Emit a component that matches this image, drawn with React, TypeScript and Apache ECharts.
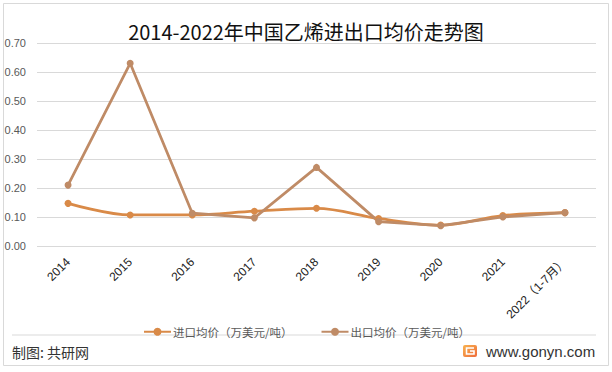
import React, { useEffect, useRef } from "react";
import * as echarts from "echarts";

const categories = ["2014", "2015", "2016", "2017", "2018", "2019", "2020", "2021", "2022（1-7月）"];
const importPrice = [0.147, 0.107, 0.107, 0.12, 0.13, 0.095, 0.072, 0.105, 0.115];
const exportPrice = [0.21, 0.63, 0.113, 0.097, 0.271, 0.084, 0.07, 0.1, 0.115];
const yTicks = { min: 0, max: 0.7, interval: 0.1 };
const seriesNames = ["进口均价（万美元/吨）", "出口均价（万美元/吨）"];

const watermarkSpots = [
  [175, 138], [405, 108], [440, 218], [205, 268],
];

export default function App() {
  const ref = useRef<HTMLDivElement>(null);
  useEffect(() => {
    document.body.style.margin = "0";
    if (!ref.current) return;
    const chart = echarts.init(ref.current, null, { renderer: "svg" });
    const wm: any[] = [];
    watermarkSpots.forEach(([x, y]) => {
      wm.push({
        type: "group",
        x,
        y,
        rotation: (12 * Math.PI) / 180,
        silent: true,
        z: -10,
        children: [
          {
            type: "text",
            x: 0,
            y: 0,
            style: {
              text: "G共研网",
              fontSize: 34,
              fontWeight: "bold",
              fill: "rgba(0,0,0,0.025)",
              fontFamily: "Noto Sans CJK SC",
              align: "center",
              verticalAlign: "middle",
            },
          },
          {
            type: "text",
            x: 0,
            y: 30,
            style: {
              text: "w w w . g o n y n . c o m",
              fontSize: 14,
              fill: "rgba(0,0,0,0.025)",
              fontFamily: "Liberation Sans",
              align: "center",
              verticalAlign: "middle",
            },
          },
        ],
      });
    });
    chart.setOption({
      animation: false,
      backgroundColor: "#ffffff",
      title: {
        text: "2014-2022年中国乙烯进出口均价走势图",
        left: "center",
        top: 16,
        textStyle: {
          fontSize: 20,
          fontWeight: "normal",
          color: "#111",
          fontFamily: "Noto Sans CJK SC",
        },
      },
      legend: {
        data: seriesNames,
        left: 138,
        top: 321,
        itemWidth: 27,
        itemHeight: 10,
        itemGap: 28,
        textStyle: { fontSize: 11.5, color: "#595959", fontFamily: "Noto Sans CJK SC", padding: [0, 0, 0, -3] },
      },
      grid: { left: 37, right: 16, top: 43, bottom: 126 },
      xAxis: {
        type: "category",
        data: categories,
        boundaryGap: true,
        axisLine: { show: false },
        axisTick: { show: false },
        axisLabel: {
          interval: 0,
          rotate: 45,
          margin: 14,
          fontSize: 12,
          color: "#222",
          fontFamily: "Liberation Sans, Noto Sans CJK SC",
        },
      },
      yAxis: {
        type: "value",
        min: yTicks.min,
        max: yTicks.max,
        interval: yTicks.interval,
        axisLine: { show: false },
        axisTick: { show: false },
        splitLine: { lineStyle: { color: "#D9D9D9", width: 1 } },
        axisLabel: {
          margin: 11,
          fontSize: 11,
          color: "#595959",
          fontFamily: "Liberation Sans",
          formatter: (v: number) => v.toFixed(2),
        },
      },
      series: [
        {
          name: seriesNames[0],
          type: "line",
          data: importPrice,
          smooth: 0.35,
          symbol: "circle",
          symbolSize: 7,
          lineStyle: { width: 2.75, color: "#D98A48" },
          itemStyle: { color: "#D98A48" },
        },
        {
          name: seriesNames[1],
          type: "line",
          data: exportPrice,
          symbol: "circle",
          symbolSize: 7,
          lineStyle: { width: 2.75, color: "#BF8B66" },
          itemStyle: { color: "#BF8B66" },
        },
      ],
      graphic: [
        ...wm,
        {
          type: "rect",
          shape: { x: 3.5, y: 3.5, width: 605, height: 362 },
          style: { fill: "none", stroke: "#D9D9D9", lineWidth: 1 },
          silent: true,
        },
        {
          type: "line",
          shape: { x1: 12, y1: 335, x2: 596, y2: 335 },
          style: { stroke: "#D9D9D9", lineWidth: 1 },
          silent: true,
        },
        {
          type: "text",
          x: 12,
          y: 352,
          style: {
            text: "制图: 共研网",
            fontSize: 14,
            fill: "#333",
            fontFamily: "Noto Sans CJK SC",
            verticalAlign: "middle",
          },
        },
        {
          type: "rect",
          shape: { x: 463, y: 345, width: 14, height: 12, r: 2 },
          style: {
            fill: new echarts.graphic.LinearGradient(0, 0, 1, 1, [
              { offset: 0, color: "#F8B24E" },
              { offset: 1, color: "#EE6B3B" },
            ]),
          },
        },
        {
          type: "polyline",
          shape: { points: [[474, 348], [466.5, 348], [466.5, 354], [474, 354], [474, 351], [470, 351]] },
          style: { stroke: "#fff", lineWidth: 1.6, fill: "none" },
        },
        {
          type: "text",
          x: 486,
          y: 351,
          style: {
            text: "www.gonyn.com",
            fontSize: 15,
            fill: "#333",
            fontFamily: "Liberation Sans",
            verticalAlign: "middle",
          },
        },
      ],
    });
    return () => chart.dispose();
  }, []);
  return <div ref={ref} style={{ width: 612, height: 372 }} />;
}
